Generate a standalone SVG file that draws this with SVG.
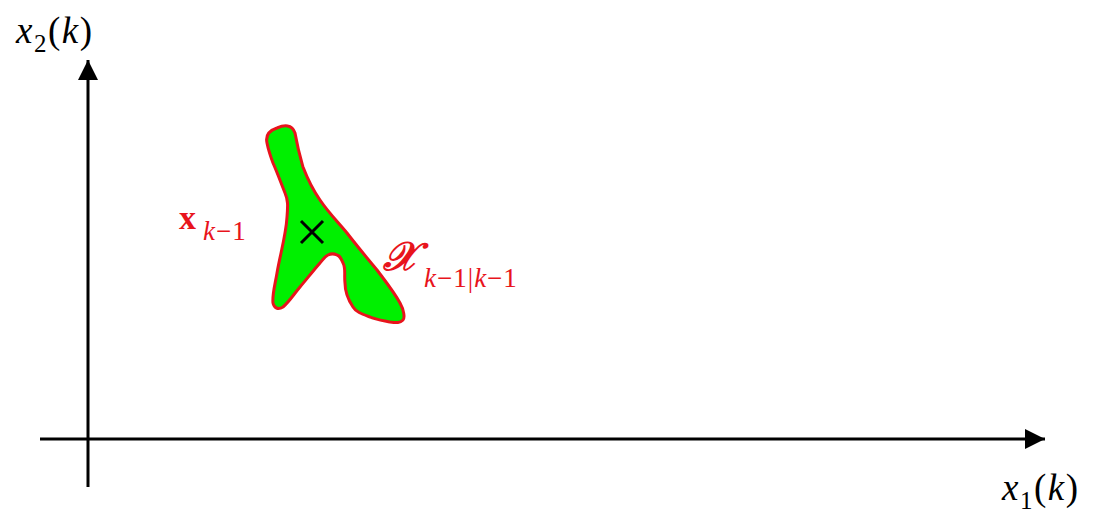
<svg xmlns="http://www.w3.org/2000/svg" width="1093" height="514" viewBox="0 0 1093 514">
<style>
.ax{stroke:#000;stroke-width:3;fill:none}
.lbl{font-family:"Liberation Serif",serif;font-size:37px;fill:#000;letter-spacing:1.5px}
.it{font-style:italic}
.red{fill:#e8141c;font-family:"Liberation Serif",serif}
</style>
<defs>
<marker id="ah" viewBox="0 0 20 20" refX="20" refY="10" markerWidth="20" markerHeight="20" markerUnits="userSpaceOnUse" orient="auto">
<path d="M0,0 L20,10 L0,20 Z" fill="#000"/>
</marker>
</defs>
<rect width="1093" height="514" fill="#fff"/>
<g id="connectors">
<line class="ax" x1="88" y1="487" x2="88" y2="60" marker-end="url(#ah)"/>
<line class="ax" x1="40" y1="439" x2="1045" y2="439" marker-end="url(#ah)"/>
</g>
<g id="region">
<path d="M267,143 C265,134 271,130 277,128 C284,125 292,124 295,133 C298,150 301,160 303,167 C308,180 313,190 320,200 C328,212 337,221 347,233 C357,246 367,258 377,270 C386,282 394,292 400,303 C404,310 405,318 403,320 C400,323 397,323 390,322 C380,320 374,319 370,317 C362,314 356,312 353,307 C347,298 345,290 345,283 C344,275 346,268 343,263 C341,258 340,256 337,255 C333,253 330,254 328,255 C324,257 323,260 320,263 C313,271 306,280 300,287 C294,294 289,302 283,307 C278,310 274,308 273,303 C272,295 275,285 277,273 C280,255 286,235 287,217 C288,205 288,200 285,193 C281,183 277,172 273,163 C270,155 268,148 267,143 Z" fill="#00f000" stroke="#e8141c" stroke-width="3" stroke-linejoin="round"/>
</g>
<g id="center">
<path d="M301,221 L323,243 M323,221 L301,243" stroke="#000" stroke-width="3"/>
</g>
<g id="label-x">
<text class="red" x="179" y="229" font-size="34" font-weight="bold">x</text>
<text class="red" x="203" y="240" font-size="27" letter-spacing="1"><tspan font-style="italic">k</tspan>−1</text>
</g>
<g id="label-X">
<text class="red" x="383" y="270" font-size="40" font-style="italic" font-weight="bold">𝒳</text>
<text class="red" x="424" y="287" font-size="27" letter-spacing="1"><tspan font-style="italic">k</tspan>−1|<tspan font-style="italic">k</tspan>−1</text>
</g>
<g id="label-x2">
<text class="lbl" x="16" y="43"><tspan class="it">x</tspan><tspan font-size="25" dy="9">2</tspan><tspan dy="-9">(</tspan><tspan class="it">k</tspan>)</text>
</g>
<g id="label-x1">
<text class="lbl" x="1002" y="500"><tspan class="it">x</tspan><tspan font-size="25" dy="9">1</tspan><tspan dy="-9">(</tspan><tspan class="it">k</tspan>)</text>
</g>
</svg>
